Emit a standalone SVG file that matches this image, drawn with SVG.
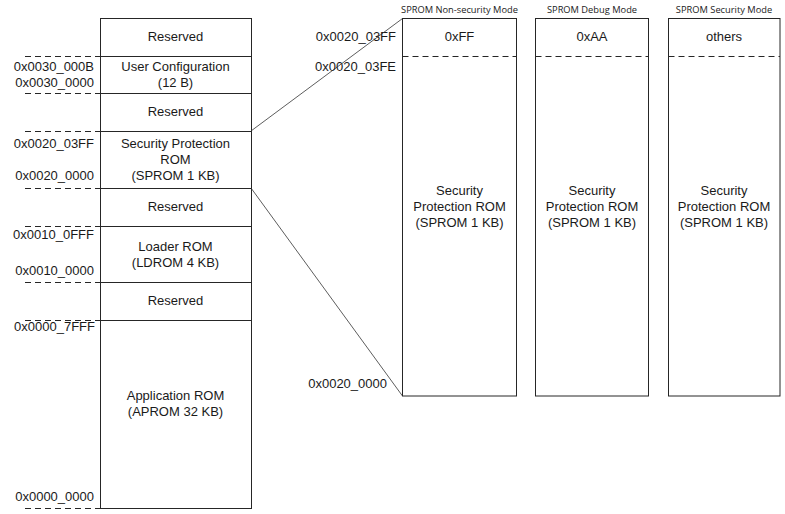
<svg xmlns="http://www.w3.org/2000/svg" width="785" height="514" viewBox="0 0 785 514">
<style>
.box{fill:#fff;stroke:#262626;stroke-width:1}
.div{stroke:#262626;stroke-width:1}
.dash{stroke:#262626;stroke-width:1;stroke-dasharray:6,4;fill:none}
.t{font-family:"Liberation Sans",Arial,sans-serif;font-size:13px;fill:#1a1a1a;text-anchor:middle}
.a{font-family:"Liberation Sans",Arial,sans-serif;font-size:13px;fill:#1a1a1a;text-anchor:end}
.h{font-family:"Open Sans","Noto Sans",sans-serif;font-size:9.3px;fill:#1a1a1a;text-anchor:middle}
.conn{stroke:#333;stroke-width:0.8;fill:none}
</style>
<rect width="785" height="514" fill="#fff"/>
<g id="memory-map">
<rect class="box" x="100.5" y="18.5" width="151" height="490"/>
<g id="reserved-top"><text class="t" x="175.5" y="40.5">Reserved</text></g>
<line class="div" x1="100" y1="56.5" x2="251" y2="56.5"/>
<g id="user-config"><text class="t" x="175.5" y="70.5">User Configuration</text><text class="t" x="175.5" y="86.5">(12 B)</text></g>
<line class="div" x1="100" y1="93.5" x2="251" y2="93.5"/>
<g id="reserved-2"><text class="t" x="175.5" y="115.5">Reserved</text></g>
<line class="div" x1="100" y1="131.5" x2="251" y2="131.5"/>
<g id="sprom"><text class="t" x="175.5" y="148">Security Protection</text><text class="t" x="175.5" y="164">ROM</text><text class="t" x="175.5" y="180">(SPROM 1 KB)</text></g>
<line class="div" x1="100" y1="188.5" x2="251" y2="188.5"/>
<g id="reserved-3"><text class="t" x="175.5" y="210.5">Reserved</text></g>
<line class="div" x1="100" y1="226.5" x2="251" y2="226.5"/>
<g id="ldrom"><text class="t" x="175.5" y="251">Loader ROM</text><text class="t" x="175.5" y="267">(LDROM 4 KB)</text></g>
<line class="div" x1="100" y1="282.5" x2="251" y2="282.5"/>
<g id="reserved-4"><text class="t" x="175.5" y="304.5">Reserved</text></g>
<line class="div" x1="100" y1="320.5" x2="251" y2="320.5"/>
<g id="aprom"><text class="t" x="175.5" y="400">Application ROM</text><text class="t" x="175.5" y="416">(APROM 32 KB)</text></g>
</g>
<g id="address-marks">
<line class="dash" x1="25" y1="56.5" x2="100" y2="56.5"/>
<line class="dash" x1="25" y1="93.5" x2="100" y2="93.5"/>
<line class="dash" x1="25" y1="131.5" x2="100" y2="131.5"/>
<line class="dash" x1="25" y1="188.5" x2="100" y2="188.5"/>
<line class="dash" x1="25" y1="226.5" x2="100" y2="226.5"/>
<line class="dash" x1="25" y1="282.5" x2="100" y2="282.5"/>
<line class="dash" x1="25" y1="320.5" x2="100" y2="320.5"/>
<line class="dash" x1="25" y1="508.5" x2="100" y2="508.5"/>
<text class="a" x="94" y="70.5">0x0030_000B</text>
<text class="a" x="94" y="86.5">0x0030_0000</text>
<text class="a" x="94" y="148">0x0020_03FF</text>
<text class="a" x="94" y="180">0x0020_0000</text>
<text class="a" x="94" y="239">0x0010_0FFF</text>
<text class="a" x="94" y="275">0x0010_0000</text>
<text class="a" x="95" y="331">0x0000_7FFF</text>
<text class="a" x="94" y="501">0x0000_0000</text>
<text class="a" x="396" y="40.5">0x0020_03FF</text>
<text class="a" x="396" y="71">0x0020_03FE</text>
<text class="a" x="387" y="388">0x0020_0000</text>
</g>
<g id="connectors">
<line class="conn" x1="251" y1="131" x2="402.5" y2="18.5"/>
<line class="conn" x1="251" y1="188" x2="402.5" y2="396"/>
</g>
<g id="mode-nonsecurity">
<text class="h" x="459.5" y="13">SPROM Non-security Mode</text>
<rect class="box" x="402.5" y="18.5" width="114" height="377.5"/>
<line class="dash" x1="402.5" y1="56.5" x2="516.5" y2="56.5"/>
<text class="t" x="459.5" y="40.5">0xFF</text>
<text class="t" x="459.5" y="195">Security</text>
<text class="t" x="459.5" y="211">Protection ROM</text>
<text class="t" x="459.5" y="227">(SPROM 1 KB)</text>
</g>
<g id="mode-debug">
<text class="h" x="592" y="13">SPROM Debug Mode</text>
<rect class="box" x="535.5" y="18.5" width="113" height="377.5"/>
<line class="dash" x1="535.5" y1="56.5" x2="648.5" y2="56.5"/>
<text class="t" x="592" y="40.5">0xAA</text>
<text class="t" x="592" y="195">Security</text>
<text class="t" x="592" y="211">Protection ROM</text>
<text class="t" x="592" y="227">(SPROM 1 KB)</text>
</g>
<g id="mode-security">
<text class="h" x="724" y="13">SPROM Security Mode</text>
<rect class="box" x="668.5" y="18.5" width="111.5" height="377.5"/>
<line class="dash" x1="668.5" y1="56.5" x2="780" y2="56.5"/>
<text class="t" x="724" y="40.5">others</text>
<text class="t" x="724" y="195">Security</text>
<text class="t" x="724" y="211">Protection ROM</text>
<text class="t" x="724" y="227">(SPROM 1 KB)</text>
</g>
</svg>
